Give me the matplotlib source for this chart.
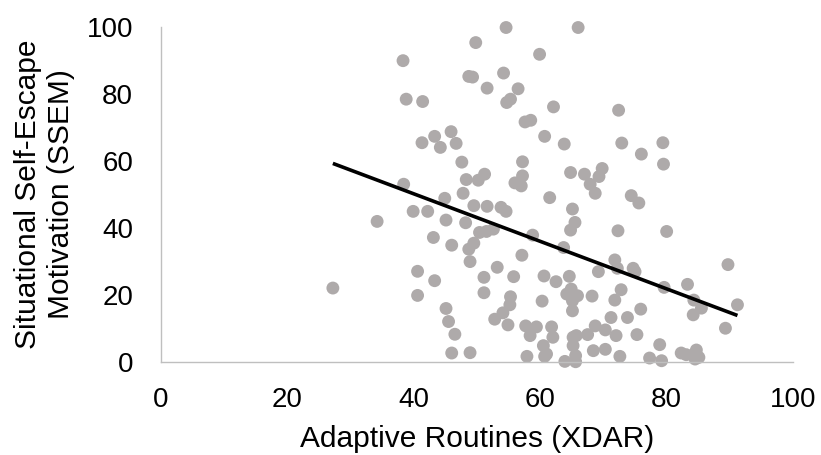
import numpy as np
import matplotlib
matplotlib.use("Agg")
import matplotlib.pyplot as plt

plt.rcParams['font.family'] = ['Liberation Sans', 'DejaVu Sans']

points = [
    (54.6,99.8),(49.8,95.3),(59.9,91.8),(38.3,89.9),(48.7,85.2),(49.3,85.0),
    (54.2,86.2),(51.6,81.7),(56.5,81.5),(54.7,77.4),(55.3,78.4),(38.8,78.4),
    (41.4,77.7),(62.1,76.1),(57.6,71.6),(58.5,72.1),(60.7,67.3),(45.9,68.7),
    (43.3,67.3),(41.3,65.4),(44.2,64.0),(46.7,65.2),(47.6,59.6),(57.2,59.7),
    (57.2,55.5),(56.0,53.4),(57.0,52.5),(48.3,54.4),(50.2,54.2),(51.2,56.0),
    (38.4,53.0),(47.8,50.3),(44.9,48.8),(61.5,49.0),
    (39.9,44.9),(42.2,44.9),(34.2,41.9),(45.1,42.3),(49.5,46.6),(51.6,46.4),
    (53.8,46.1),(54.6,44.9),(48.2,41.5),(50.4,38.6),(51.5,38.9),(52.6,39.6),
    (43.1,37.1),(46.0,34.8),(49.5,35.4),(48.7,33.6),(48.9,29.9),(58.8,37.8),
    (57.1,31.8),(40.6,27.0),(43.3,24.2),(27.2,22.0),(40.6,19.8),(51.1,25.2),
    (53.2,28.2),(55.8,25.4),(60.6,25.6),(62.5,23.9),(51.1,20.6),(55.3,19.4),
    (55.2,17.0),(54.1,14.6),(52.8,12.7),(54.9,11.0),(60.3,18.1),(45.1,15.9),
    (45.5,12.0),(46.5,8.2),(46.0,2.6),(48.9,2.7),(57.7,10.7),(59.4,10.4),
    (58.4,7.8),(61.8,10.4),(62.0,7.3),(60.5,4.8),(61.0,2.3),(57.9,1.6),(60.7,1.6),
    (68.7,50.3),(74.4,49.6),(75.6,47.4),(65.1,45.6),(65.5,41.6),(64.8,39.3),
    (72.3,39.1),(80.0,38.9),(63.7,34.1),(71.8,30.4),(72.2,27.9),(74.7,27.9),
    (75.0,26.9),(69.2,26.9),(89.7,29.0),(64.6,25.5),(64.9,21.7),(64.2,20.2),
    (65.9,19.7),(65.1,18.2),(65.1,15.2),(68.2,19.6),(72.8,21.5),(71.8,18.4),
    (79.6,22.2),(83.3,23.1),(84.3,18.4),(85.5,16.0),(84.2,14.0),(91.2,17.0),
    (89.3,10.0),(75.9,15.7),(71.2,13.2),(73.8,13.2),(65.2,7.3),(65.7,7.8),
    (65.2,4.8),(67.5,8.1),(68.7,10.7),(70.3,9.5),(72.0,7.8),(75.3,8.1),
    (68.4,3.3),(70.3,3.7),(63.9,0.1),(65.6,1.8),(65.6,0.0),(72.6,1.6),
    (77.3,1.1),(79.2,0.3),(78.9,5.1),(82.3,2.6),(83.1,2.1),(84.7,3.5),
    (85.1,1.3),(84.5,0.8),
    (66.0,99.8),(72.4,75.1),(63.8,65.0),(72.9,65.3),(79.4,65.4),(76.0,62.0),
    (79.5,59.0),(64.8,56.5),(67.0,56.0),(69.8,57.7),(69.3,55.3),(67.9,53.0),
]
xdar = [p[0] for p in points]
ssem = [p[1] for p in points]

x_ticks = [0, 20, 40, 60, 80, 100]
y_ticks = [0, 20, 40, 60, 80, 100]
x_label = "Adaptive Routines (XDAR)"
y_label = "Situational Self-Escape\nMotivation (SSEM)"

fig = plt.figure(figsize=(8.21, 4.55), dpi=100)
ax = fig.add_axes([0.196, 0.205, 0.770, 0.736])

ax.scatter(xdar, ssem, s=86, color="#AEAAAA", edgecolors="none", zorder=2, clip_on=False)

xa = np.array(xdar); ya = np.array(ssem)
slope, intercept = np.polyfit(xa, ya, 1)
xl = np.array([xa.min(), xa.max()])
ax.plot(xl, intercept + slope * xl, color="black", lw=2.6, zorder=3,
        solid_capstyle="butt")

ax.set_xlim(0, 100)
ax.set_ylim(0, 100)
ax.set_xticks(x_ticks)
ax.set_yticks(y_ticks)
ax.tick_params(length=0, labelsize=20, colors="black")
ax.tick_params(axis='x', pad=18)
ax.tick_params(axis='y', pad=20)
for side in ["top", "right"]:
    ax.spines[side].set_visible(False)
for side in ["left", "bottom"]:
    ax.spines[side].set_color("#BFBFBF")
    ax.spines[side].set_linewidth(1.0)

ax.set_xlabel(x_label, fontsize=21.5)
ax.xaxis.set_label_coords(0.5, -0.19)
ax.set_ylabel(y_label, fontsize=21.5, linespacing=1.22)
ax.yaxis.set_label_coords(-0.1365, 0.5)

fig.savefig("out.png", dpi=100)
